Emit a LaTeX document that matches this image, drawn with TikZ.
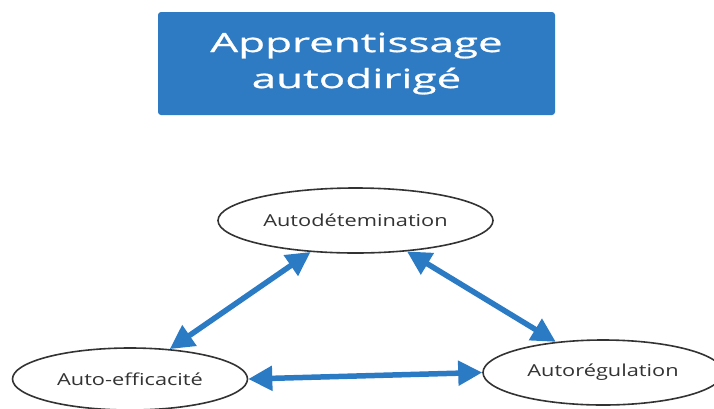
\documentclass[tikz,border=0pt]{standalone}
\usepackage{fontspec}
\setmainfont{Open Sans}
\newfontfamily\titlefont{Open Sans}[FakeStretch=1.66,FakeBold=1]
\newfontfamily\bubblefont{Open Sans}[FakeStretch=1.32]
\usetikzlibrary{shapes.geometric,arrows.meta}
\definecolor{titleblue}{RGB}{46,123,196}
\definecolor{arrowblue}{RGB}{42,122,196}
\definecolor{edgegray}{RGB}{51,51,51}

\begin{document}
\begin{tikzpicture}[x=1pt,y=-1pt,
  bubble/.style={draw=edgegray, line width=1.6pt, ellipse, inner sep=0pt, text=edgegray, font=\bubblefont\fontsize{16.5}{20}\selectfont},
  link/.style={arrowblue, line width=5.5pt, {Triangle[length=24pt,width=24pt]}-{Triangle[length=24pt,width=24pt]}}]
  \useasboundingbox (0,0) rectangle (714,408);
  \node[fill=titleblue, rounded corners=3pt, minimum width=397pt, minimum height=103pt, text=white, align=center, font=\titlefont\fontsize{26.5}{36}\selectfont] (title) at (356.5,63.5) {Apprentissage\\autodirigé};
  % the three components
  \node[bubble, minimum width=275pt, minimum height=65pt] (autodet) at (355.5,220.5) {Autodétemination};
  \node[bubble, minimum width=235pt, minimum height=62pt] (autoeff) at (130,379) {Auto-efficacité};
  \node[bubble, minimum width=240pt, minimum height=65pt] (autoreg) at (603,372.5) {Autorégulation};
  \draw[link] (autoeff.37) -- (autodet.215);
  \draw[link] (autodet.329) -- (autoreg.147);
  \draw[link] (autoeff.east) -- (autoreg.west);
\end{tikzpicture}
\end{document}
